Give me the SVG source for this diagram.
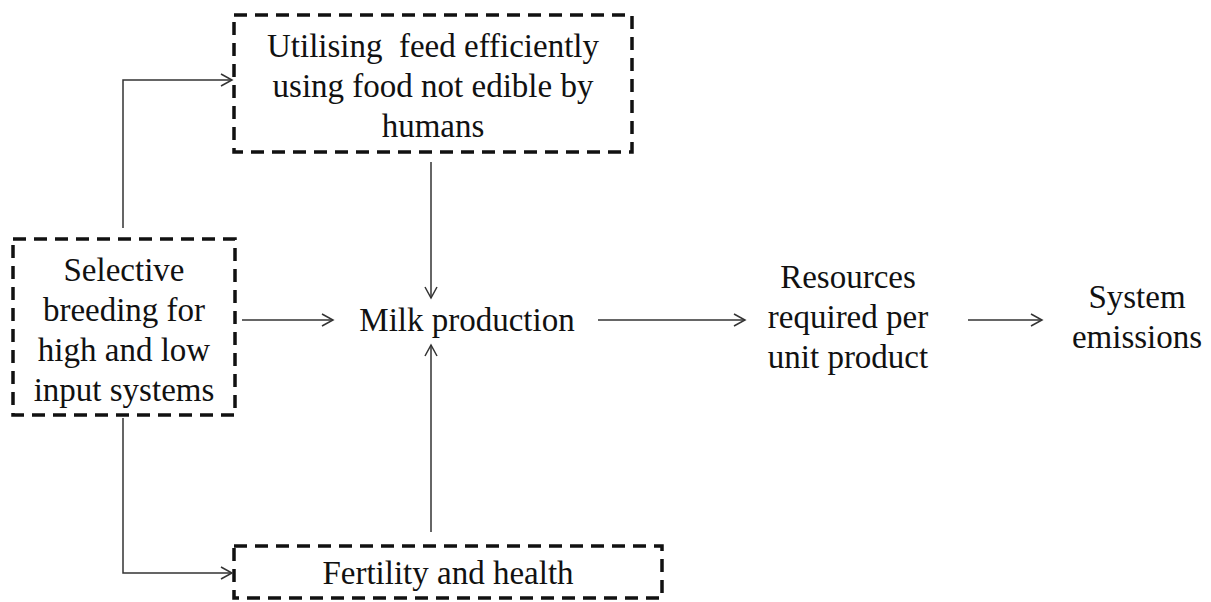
<svg xmlns="http://www.w3.org/2000/svg" width="1211" height="602" viewBox="0 0 1211 602">
<defs>
<marker id="arr" markerWidth="14" markerHeight="14" refX="12" refY="7" orient="auto" markerUnits="userSpaceOnUse">
<path d="M1,1 L12,7 L1,13" fill="none" stroke="#333" stroke-width="1.5"/>
</marker>
</defs>
<style>
.box{fill:none;stroke:#111;stroke-width:3.5;stroke-dasharray:13 8}
.t{font-family:"Liberation Serif",serif;font-size:33px;fill:#111;text-anchor:middle;white-space:pre}
.c{fill:none;stroke:#333;stroke-width:1.5;marker-end:url(#arr)}
</style>
<rect width="1211" height="602" fill="#fff"/>
<g id="feed">
<rect class="box" x="234" y="15" width="398" height="137"/>
<text class="t" x="433" y="57" xml:space="preserve">Utilising  feed efficiently</text>
<text class="t" x="433" y="97">using food not edible by</text>
<text class="t" x="433" y="137">humans</text>
</g>
<g id="breeding">
<rect class="box" x="13" y="239" width="222" height="176"/>
<text class="t" x="124" y="281">Selective</text>
<text class="t" x="124" y="321">breeding for</text>
<text class="t" x="124" y="361">high and low</text>
<text class="t" x="124" y="401">input systems</text>
</g>
<g id="fertility">
<rect class="box" x="234" y="546" width="428" height="52"/>
<text class="t" x="448" y="584">Fertility and health</text>
</g>
<g id="milk">
<text class="t" x="467" y="331">Milk production</text>
</g>
<g id="resources">
<text class="t" x="848" y="288">Resources</text>
<text class="t" x="848" y="328">required per</text>
<text class="t" x="848" y="368">unit product</text>
</g>
<g id="emissions">
<text class="t" x="1137" y="308">System</text>
<text class="t" x="1137" y="348">emissions</text>
</g>
<g id="connectors">
<path class="c" d="M123,228 V80 H232"/>
<path class="c" d="M123,418 V573 H232"/>
<path class="c" d="M242,320 H333"/>
<path class="c" d="M431,162 V298"/>
<path class="c" d="M431,532 V345"/>
<path class="c" d="M598,320 H745"/>
<path class="c" d="M968,320 H1042"/>
</g>
</svg>
